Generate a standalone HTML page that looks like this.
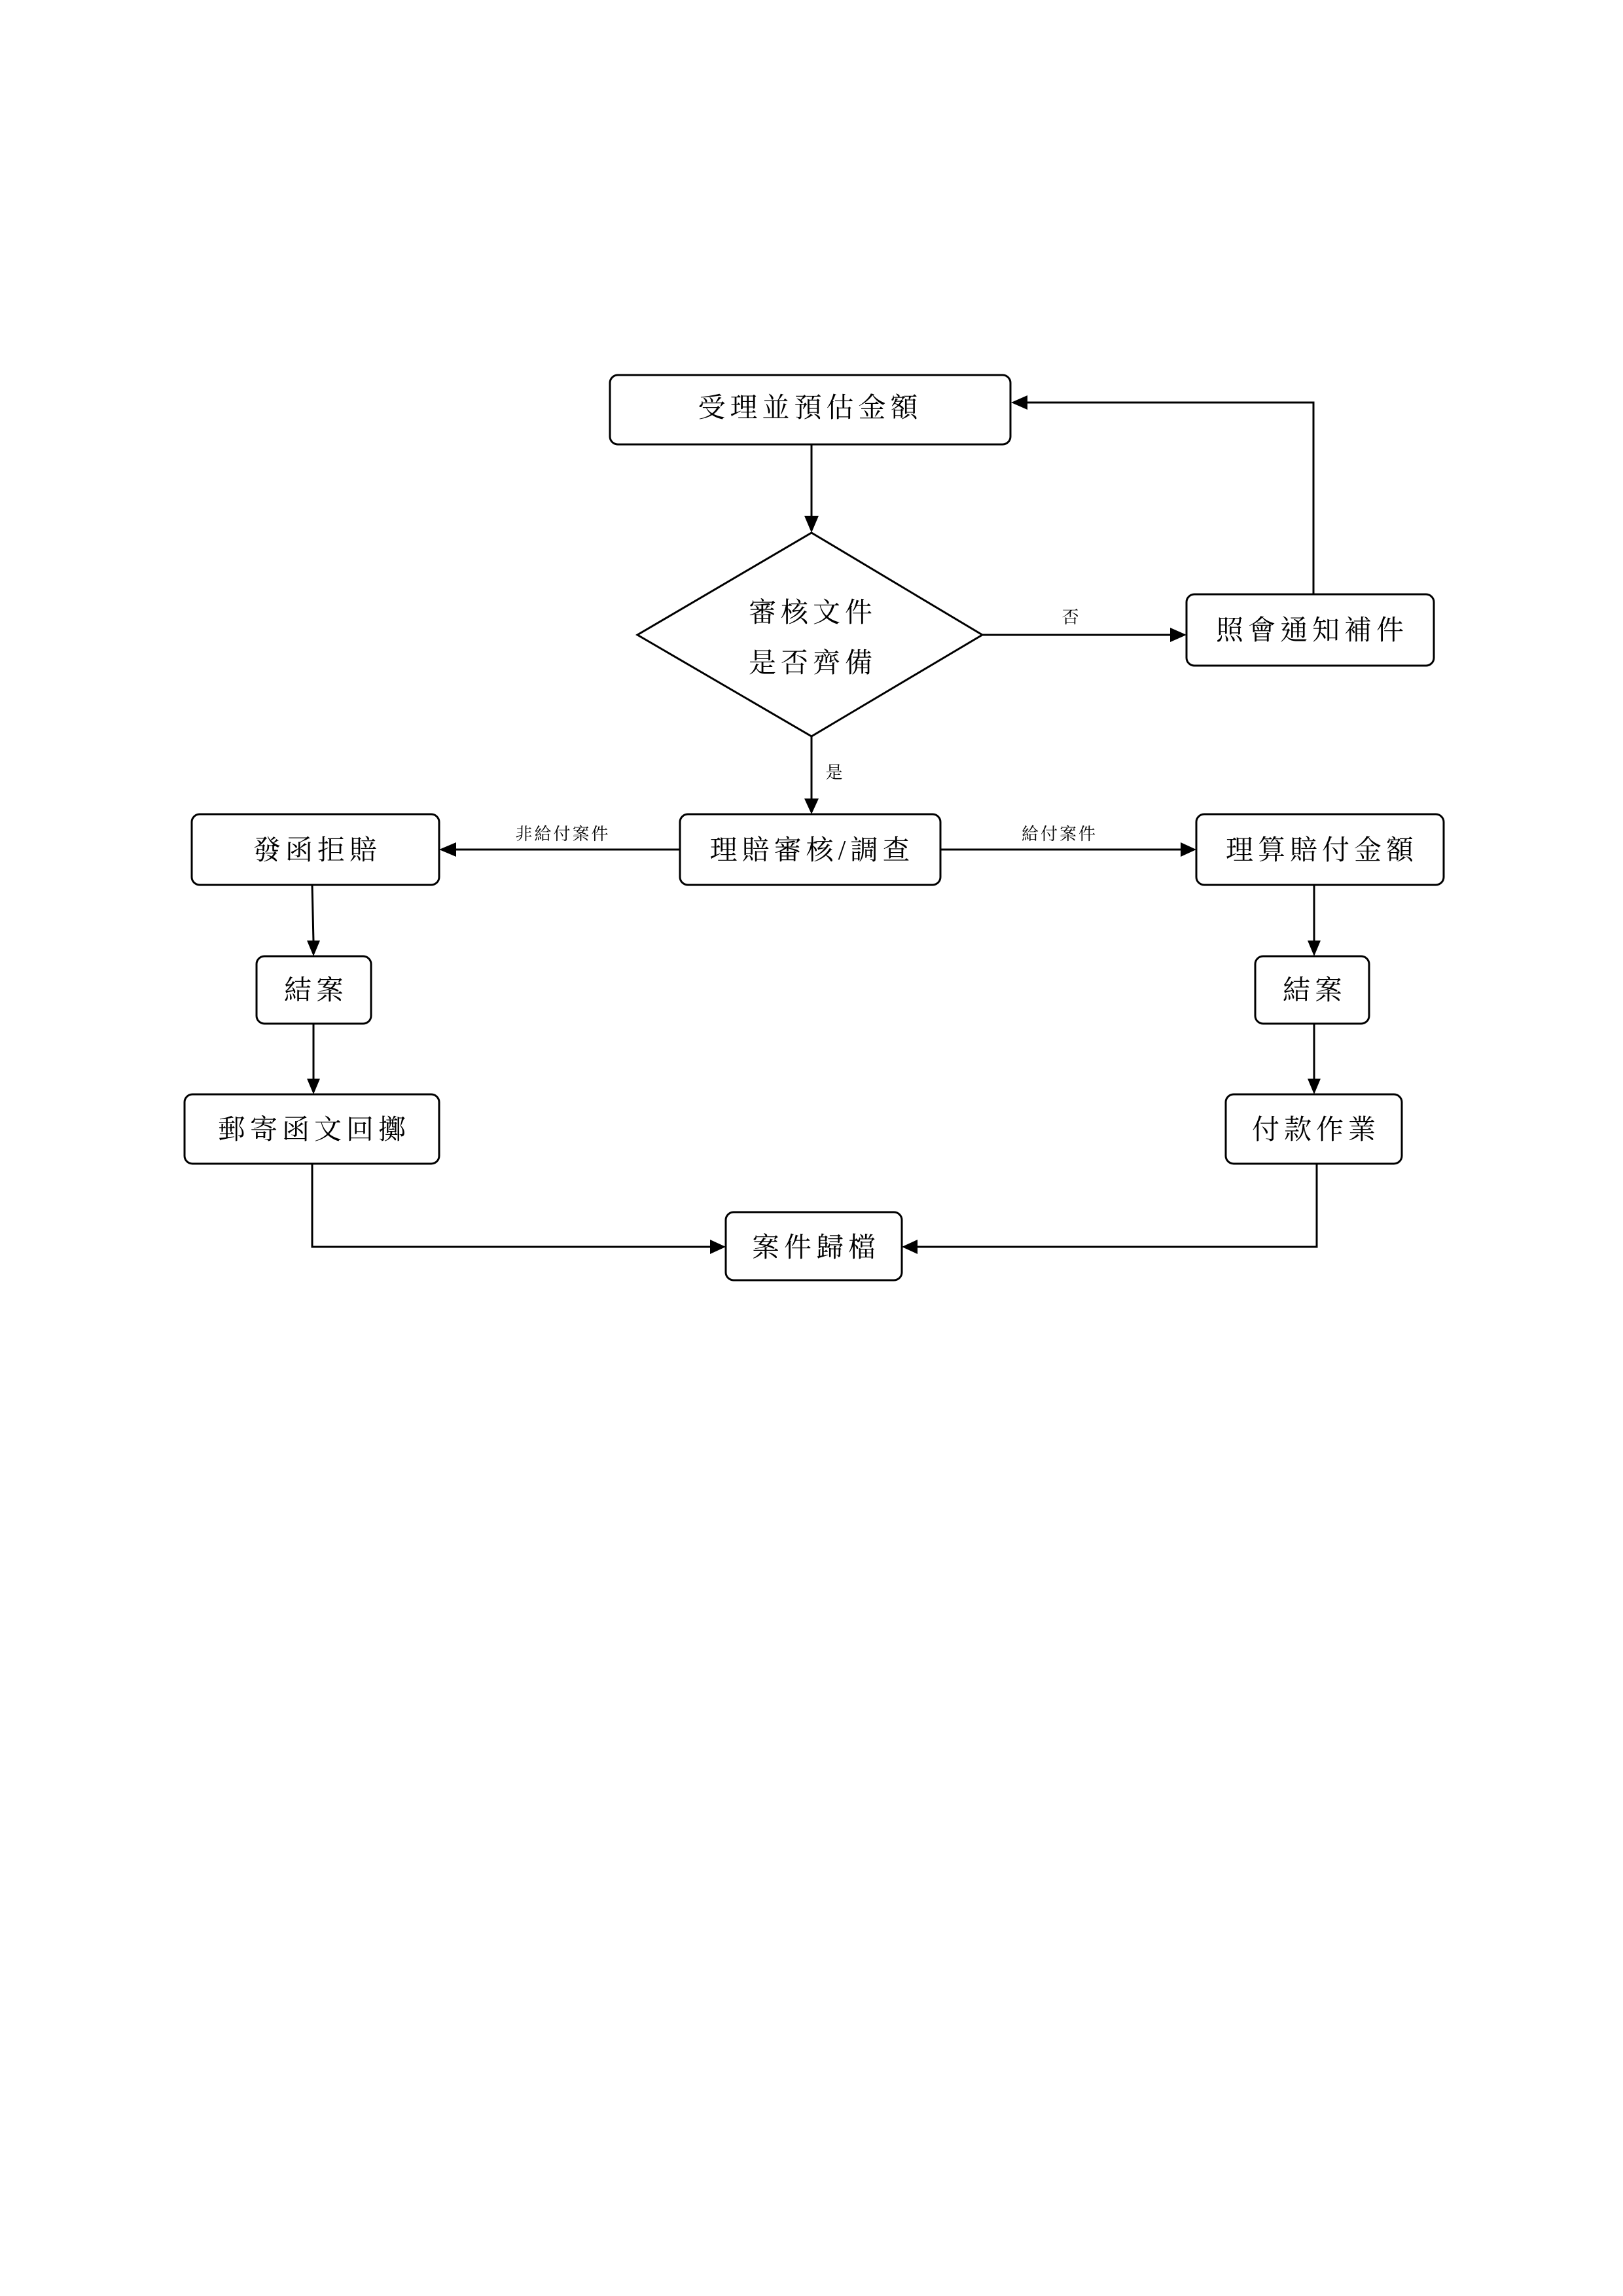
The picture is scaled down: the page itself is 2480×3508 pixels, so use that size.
<!DOCTYPE html>
<html><head><meta charset="utf-8"><style>
html,body{margin:0;padding:0;background:#fff;}
svg{display:block;}
text{font-family:"Liberation Serif","Noto Serif CJK TC","Noto Serif CJK SC",serif;fill:#000;}
.b{font-size:42px;letter-spacing:7px;}
.l{font-size:26px;letter-spacing:3px;}
rect{fill:#fff;stroke:#000;stroke-width:3;}
</style></head><body>
<svg width="2480" height="3508" viewBox="0 0 2480 3508" xmlns="http://www.w3.org/2000/svg">
<g stroke="#000" stroke-width="3" fill="none">
<line x1="1240" y1="679" x2="1240" y2="790"/>
<line x1="1501" y1="970" x2="1790" y2="970"/>
<polyline points="2007,908 2007,615 1568,615"/>
<line x1="1240" y1="1125" x2="1240" y2="1222"/>
<line x1="1039" y1="1298" x2="695" y2="1298"/>
<line x1="1437" y1="1298" x2="1806" y2="1298"/>
<line x1="477" y1="1352" x2="479" y2="1438"/>
<line x1="479" y1="1564" x2="479" y2="1650"/>
<line x1="2008" y1="1352" x2="2008" y2="1438"/>
<line x1="2008" y1="1564" x2="2008" y2="1650"/>
<polyline points="477,1778 477,1905 1087,1905"/>
<polyline points="2012,1778 2012,1905 1400,1905"/>
</g>
<g fill="#000">
<path d="M1229,788 L1251,788 L1240,814 z"/>
<path d="M1788,959 L1788,981 L1813,970 z"/>
<path d="M1570,604 L1570,626 L1545,615 z"/>
<path d="M1229,1220 L1251,1220 L1240,1244 z"/>
<path d="M697,1287 L697,1309 L671,1298 z"/>
<path d="M1804,1287 L1804,1309 L1828,1298 z"/>
<path d="M469,1437 L489,1437 L479,1461 z"/>
<path d="M469,1648 L489,1648 L479,1672 z"/>
<path d="M1998,1437 L2018,1437 L2008,1461 z"/>
<path d="M1998,1648 L2018,1648 L2008,1672 z"/>
<path d="M1085,1894 L1085,1916 L1109,1905 z"/>
<path d="M1402,1894 L1402,1916 L1378,1905 z"/>
</g>
<rect x="932" y="573" width="612" height="106" rx="12"/>
<text class="b" x="1238" y="637" text-anchor="middle">受理並預估金額</text>
<polygon points="1240,814 1501,970 1240,1125 974,970" fill="#fff" stroke="#000" stroke-width="3"/>
<text class="b" x="1242" y="950" text-anchor="middle">審核文件</text>
<text class="b" x="1242" y="1027" text-anchor="middle">是否齊備</text>
<text class="l" x="1637" y="952" text-anchor="middle">否</text>
<rect x="1813" y="908" width="378" height="109" rx="12"/>
<text class="b" x="2005" y="977" text-anchor="middle">照會通知補件</text>
<text class="l" x="1276" y="1189" text-anchor="middle">是</text>
<rect x="1039" y="1244" width="398" height="108" rx="12"/>
<text class="b" x="1241" y="1313" text-anchor="middle">理賠審核/調查</text>
<text class="l" x="860" y="1283" text-anchor="middle">非給付案件</text>
<text class="l" x="1619" y="1283" text-anchor="middle">給付案件</text>
<rect x="293" y="1244" width="378" height="108" rx="12"/>
<text class="b" x="485" y="1313" text-anchor="middle">發函拒賠</text>
<rect x="1828" y="1244" width="378" height="108" rx="12"/>
<text class="b" x="2020" y="1313" text-anchor="middle">理算賠付金額</text>
<rect x="392" y="1461" width="175" height="103" rx="12"/>
<text class="b" x="483" y="1527" text-anchor="middle">結案</text>
<rect x="1918" y="1461" width="174" height="103" rx="12"/>
<text class="b" x="2009" y="1527" text-anchor="middle">結案</text>
<rect x="282" y="1672" width="389" height="106" rx="12"/>
<text class="b" x="480" y="1740" text-anchor="middle">郵寄函文回擲</text>
<rect x="1873" y="1672" width="269" height="106" rx="12"/>
<text class="b" x="2011" y="1740" text-anchor="middle">付款作業</text>
<rect x="1109" y="1852" width="269" height="104" rx="12"/>
<text class="b" x="1247" y="1920" text-anchor="middle">案件歸檔</text>
</svg>
</body></html>
